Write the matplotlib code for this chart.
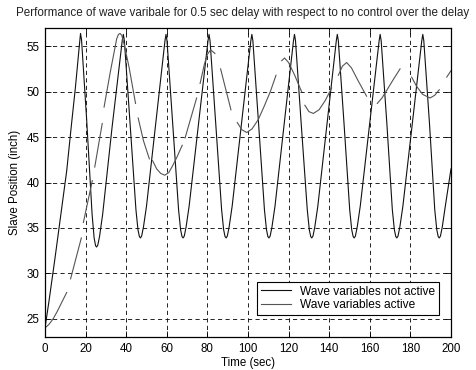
import numpy as np
import matplotlib
matplotlib.use("Agg")
import matplotlib.pyplot as plt

plt.rcParams['font.family'] = ['Liberation Sans', 'DejaVu Sans']

# Wave variables not active (fast oscillation)
t_off = [0.0, 2.0, 5.0, 8.0, 10.7, 13.0, 15.0, 16.8, 17.5,
         18.0, 20.5, 23.2, 24.2, 24.9, 25.4, 26.0, 26.9, 28.4, 33.0, 38.1, 38.6,
         39.1, 41.9, 44.8, 45.8, 46.5, 47.0, 47.6, 48.5, 50.0, 59.1, 59.6,
         60.1, 62.9, 65.8, 66.8, 67.5, 68.0, 68.6, 69.5, 71.0, 80.3, 80.8,
         81.3, 84.1, 87.0, 88.0, 88.7, 89.2, 89.8, 90.7, 92.2, 101.4, 101.9,
         102.4, 105.2, 108.1, 109.1, 109.8, 110.3, 110.9, 111.8, 113.3, 122.4, 122.9,
         123.4, 126.2, 129.2, 130.2, 130.9, 131.4, 132.0, 132.9, 134.4, 143.5, 144.0,
         144.5, 147.3, 150.1, 151.1, 151.8, 152.3, 152.9, 153.8, 155.3, 164.6, 165.1,
         165.6, 168.4, 171.1, 172.1, 172.8, 173.3, 173.9, 174.8, 176.3, 185.6, 186.1,
         186.6, 189.4, 192.0, 193.0, 193.7, 194.2, 194.8, 195.7, 197.2, 200.0]
y_off = [24.0, 27.0, 31.8, 36.8, 41.3, 46.3, 50.5, 54.8, 56.4,
         55.7, 47.0, 36.5, 33.9, 33.05, 32.9, 33.1, 34.1, 36.5, 46.0, 55.7, 56.3,
         55.6, 46.5, 37.0, 34.8, 34.05, 33.9, 34.1, 35.1, 37.4, 55.6, 56.3,
         55.6, 46.5, 37.0, 34.8, 34.05, 33.9, 34.1, 35.1, 37.4, 55.6, 56.3,
         55.6, 46.5, 37.0, 34.8, 34.05, 33.9, 34.1, 35.1, 37.4, 55.6, 56.3,
         55.6, 46.5, 37.0, 34.8, 34.05, 33.9, 34.1, 35.1, 37.4, 55.6, 56.3,
         55.6, 46.5, 37.0, 34.8, 34.05, 33.9, 34.1, 35.1, 37.4, 55.6, 56.3,
         55.6, 46.5, 37.0, 34.8, 34.05, 33.9, 34.1, 35.1, 37.4, 55.6, 56.3,
         55.6, 46.5, 37.0, 34.8, 34.05, 33.9, 34.1, 35.1, 37.4, 55.6, 56.3,
         55.6, 46.5, 37.0, 34.8, 34.05, 33.9, 34.1, 35.1, 37.4, 41.5]

# Wave variables active (broken segments, NaN = gap)
nan = float('nan')
t_on = [0.0, 2.0, 4.0, 6.0, 8.0, 10.7, nan,
        12.6, 17.9, nan,
        18.9, 23.3, nan,
        24.5, 28.2, nan,
        29.1, 32.2, 35.3, 36.2, 37.0, 37.8, 39.0, 41.4, 44.6, nan,
        45.9, 48.5, 51.4, nan,
        53.0, 55.0, 57.0, 59.0, 61.0, 63.0, 65.0, 67.6, nan,
        69.0, 74.7, nan,
        76.4, 78.5, 80.0, 81.6, 83.7, nan,
        86.5, 91.6, nan,
        94.7, 97.0, 99.4, 102.0, 105.0, 108.0, 111.0, 113.8, nan,
        116.6, 118.0, 120.0, 123.0, 126.4, nan,
        128.0, 130.0, 132.2, 135.0, 138.0, 141.2, nan,
        144.5, 146.5, 148.6, 151.0, 154.0, 158.4, nan,
        163.7, 166.0, 168.5, 171.5, 174.9, nan,
        180.6, 183.0, 186.0, 189.7, 192.0, 194.2, nan,
        197.9, 200.0]
y_on = [24.0, 24.4, 25.0, 25.8, 26.7, 27.9, nan,
        29.4, 33.9, nan,
        35.6, 40.2, nan,
        41.7, 46.5, nan,
        48.3, 52.2, 55.8, 56.3, 56.4, 56.2, 55.2, 52.7, 48.7, nan,
        47.1, 44.6, 42.6, nan,
        42.4, 41.5, 41.0, 40.8, 41.1, 41.9, 42.8, 44.1, nan,
        44.9, 49.3, nan,
        50.9, 53.0, 54.1, 54.6, 54.2, nan,
        52.5, 48.0, nan,
        46.6, 45.8, 45.5, 45.9, 46.9, 48.4, 50.0, 51.8, nan,
        53.4, 53.7, 53.2, 51.8, 50.0, nan,
        48.5, 47.8, 47.6, 48.0, 49.0, 50.4, nan,
        51.8, 52.8, 53.2, 52.6, 51.3, 49.5, nan,
        48.7, 49.3, 50.2, 51.3, 52.5, nan,
        51.6, 50.6, 49.7, 49.3, 49.6, 50.2, nan,
        51.6, 52.3]

xticks = list(range(0, 201, 20))
yticks = [25, 30, 35, 40, 45, 50, 55]
title = 'Performance of wave varibale for 0.5 sec delay with respect to no control over the delay'

fig = plt.figure(figsize=(4.77, 3.70), dpi=100)
ax = fig.add_axes([45/477, 1-337/370, (451-45)/477, (337-28)/370])

ax.plot(t_off, y_off, color='#111111', lw=0.8, label='Wave variables not active')
ax.plot(t_on, y_on, color='#555555', lw=0.8, label='Wave variables active')

ax.set_xlim(0, 200)
ax.set_ylim(23, 57)
ax.set_xticks(xticks)
ax.set_yticks(yticks)
ax.grid(True, color='black', linestyle=(0, (5, 4)), linewidth=0.6)
ax.tick_params(direction='in', top=True, right=True, labelsize=8.3, length=4, width=0.6, pad=4, colors='black')
for s in ax.spines.values():
    s.set_linewidth(0.9)

ax.set_xlabel('Time (sec)', fontsize=8.3, labelpad=2)
ax.set_ylabel('Slave Position (inch)', fontsize=8.3, labelpad=4)
fig.text(243/477, 1-13/370, title, fontsize=8.35, color='#222222', ha='center', va='center')

leg = ax.legend(loc='lower right', bbox_to_anchor=((439-45)/406, (337-315)/309), fontsize=8.6,
                frameon=True, fancybox=False, framealpha=1, edgecolor='black',
                handlelength=2.5, borderpad=0.3, labelspacing=0.15, borderaxespad=0)
leg.get_frame().set_linewidth(0.8)

fig.savefig('out.png', dpi=100)
